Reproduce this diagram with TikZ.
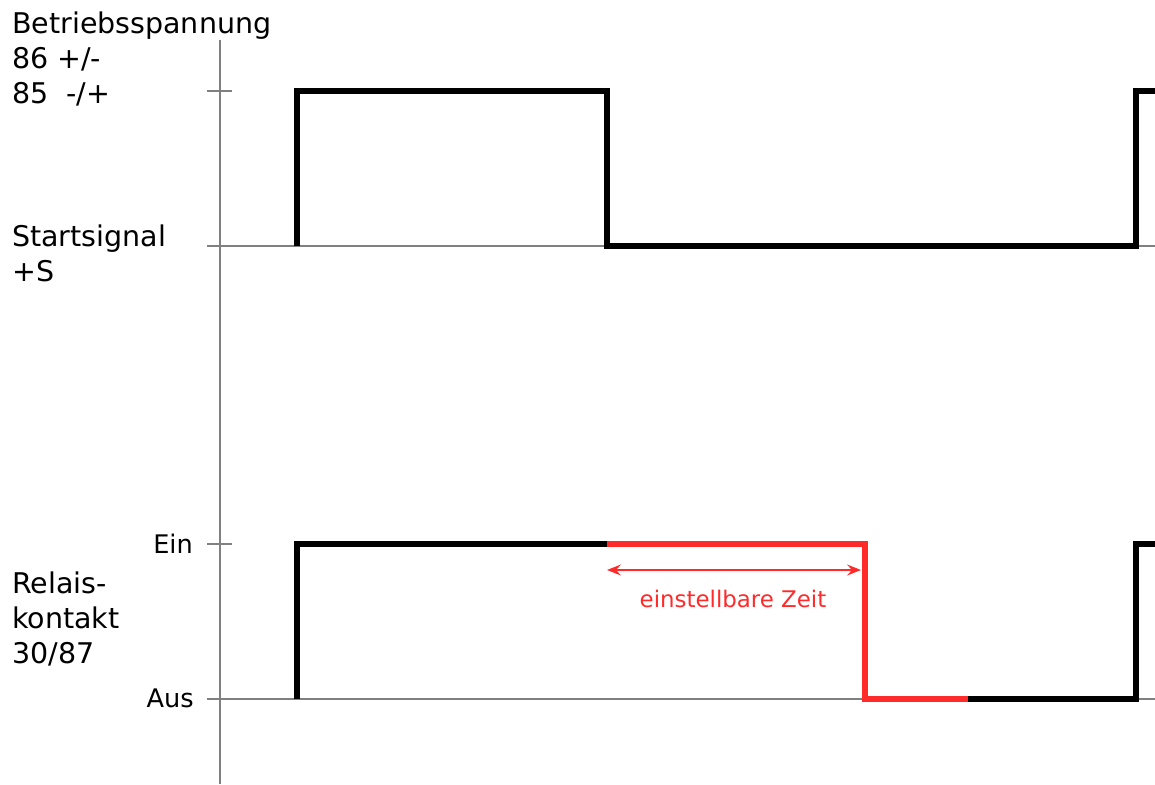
\documentclass[tikz,border=0pt]{standalone}
\usepackage{fontspec}
\setmainfont{DejaVu Sans}
\usepackage{xcolor}
\definecolor{ColAxis}{RGB}{128,128,128}
\definecolor{ColDelay}{RGB}{255,42,42}
\usepackage{tikz}
\usetikzlibrary{arrows.meta}
\tikzstyle{Axis}=[draw=ColAxis,line width=1.4pt]
\tikzstyle{Signal}=[draw=black,line width=5.5pt,line join=miter]
\tikzstyle{Delay}=[draw=ColDelay,line width=5.5pt,line join=miter]
\tikzstyle{Span}=[draw=ColDelay,line width=1.2pt,
{Stealth[length=14pt,width=11pt,inset=5pt]}-{Stealth[length=14pt,width=11pt,inset=5pt]}]
\tikzstyle{Label}=[inner sep=0pt,align=left,
font=\fontsize{28.5}{35}\selectfont]
\tikzstyle{Level}=[inner sep=0pt,font=\fontsize{25.6}{30}\selectfont]
\tikzstyle{SpanLabel}=[inner sep=0pt,text=ColDelay,
font=\fontsize{22.9}{28}\selectfont]

\begin{document}
\begin{tikzpicture}[x=1pt,y=-1pt]
        \useasboundingbox(0,0)rectangle(1155,784);
        % axis
        \coordinate(at)at(220,40);
        \coordinate(ab)at(220,784);
        \coordinate(t1l)at(207,91);
        \coordinate(t1r)at(232,91);
        \coordinate(s0l)at(207,246);
        \coordinate(s0r)at(1155,246);
        \coordinate(t2l)at(207,544);
        \coordinate(t2r)at(232,544);
        \coordinate(r0l)at(207,699);
        \coordinate(r0r)at(1155,699);
        \draw[Axis](at)--(ab);
        \draw[Axis](t1l)--(t1r);
        \draw[Axis](s0l)--(s0r);
        \draw[Axis](t2l)--(t2r);
        \draw[Axis](r0l)--(r0r);
        % labels
        \node[Label,anchor=base west](betr)at(12,103)
            {Betriebsspannung\\86 +/-\\85\ \ -/+};
        \node[Label,anchor=base west](start)at(12,281.5){Startsignal\\+S};
        \node[Label,anchor=base west](relais)at(12,663)
            {Relais-\\kontakt\\30/87};
        \node[Level,anchor=east](ein)at(193,544){Ein};
        \node[Level,anchor=east](aus)at(194,698){Aus};
        % supply / start signal
        \coordinate(a1)at(297,246);
        \coordinate(a2)at(297,91);
        \coordinate(a3)at(607,91);
        \coordinate(a4)at(607,246);
        \coordinate(a5)at(1136,246);
        \coordinate(a6)at(1136,91);
        \coordinate(a7)at(1158,91);
        \draw[Signal](a1)--(a2)--(a3)--(a4)--(a5)--(a6)--(a7);
        % relay contact
        \coordinate(b1)at(297,699);
        \coordinate(b2)at(297,544);
        \coordinate(b3)at(607,544);
        \coordinate(b4)at(865,544);
        \coordinate(b5)at(865,699);
        \coordinate(b6)at(968,699);
        \coordinate(b7)at(1136,699);
        \coordinate(b8)at(1136,544);
        \coordinate(b9)at(1158,544);
        \draw[Signal](b1)--(b2)--(b3);
        \draw[Delay](b3)--(b4)--(b5)--(b6);
        \draw[Signal](b6)--(b7)--(b8)--(b9);
        % delay time
        \coordinate(c1)at(607,570);
        \coordinate(c2)at(861,570);
        \draw[Span](c1)--(c2);
        \node[SpanLabel](zeit)at(733,599){einstellbare Zeit};
    \end{tikzpicture}
\end{document}
